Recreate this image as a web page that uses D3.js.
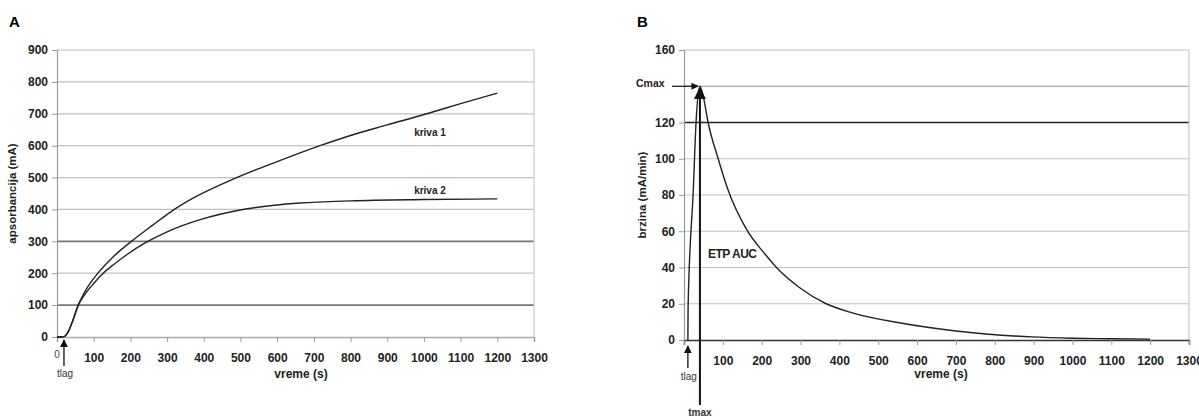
<!DOCTYPE html>
<html>
<head>
<meta charset="utf-8">
<script src="https://cdn.jsdelivr.net/npm/d3@7"></script>
<style>
  body { margin: 0; background: #fff; }
  svg { font-family: "Liberation Sans", Arial, sans-serif; }
  .tick text { font-weight: bold; fill: #222; }
</style>
</head>
<body>
<svg id="chart" width="1199" height="416"></svg>
<script>
// panel A: absorbance curves
const time1 = [0, 12, 22, 30, 40, 58, 80, 115, 150, 203, 260, 317, 367, 480, 600, 717, 800, 900, 1008, 1100, 1200];
const kriva1 = [0, 0, 3, 15, 42, 100, 150, 205, 248, 300, 350, 398, 433, 495, 550, 600, 632, 665, 700, 732, 765];
const time2 = [0, 12, 22, 30, 40, 58, 80, 100, 126, 153, 190, 240, 300, 390, 507, 662, 800, 1000, 1200];
const kriva2 = [0, 0, 3, 15, 42, 100, 140, 168, 200, 226, 258, 295, 330, 368, 400, 420, 427, 431, 433];
const yTicksA = [0, 100, 200, 300, 400, 500, 600, 700, 800, 900];
const darkGridA = [100, 300];

// panel B: thrombin rate curve
const timeB = [10, 10.5, 24, 31, 41, 50, 62, 88, 113, 161, 210, 238, 297, 366, 433, 554, 700, 896, 1000, 1100, 1200];
const rateB = [0, 18, 83, 120, 140, 134, 120, 100, 83, 61, 47, 40, 29, 20, 15, 9.5, 5, 1.7, 1, 0.7, 0.5];
const yTicksB = [0, 20, 40, 60, 80, 100, 120, 140, 160];
const yLabelsB = [0, 20, 40, 60, 80, 100, 120, 160];
const tlagA = 19, tlagB = 10, tmax = 41, cmax = 140;

const xTicks = d3.range(100, 1301, 100);

const svg = d3.select('#chart');

const defs = svg.append('defs');
defs.append('marker')
  .attr('id', 'arr')
  .attr('viewBox', '0 0 10 10')
  .attr('refX', 9).attr('refY', 5)
  .attr('markerWidth', 6).attr('markerHeight', 6)
  .attr('orient', 'auto-start-reverse')
  .append('path')
  .attr('d', 'M0,0 L10,5 L0,10 z')
  .attr('fill', '#111');

function panel(opt) {
  const x = d3.scaleLinear().domain([0, 1300]).range([opt.x0, opt.x1]);
  const y = d3.scaleLinear().domain([0, opt.ymax]).range([opt.y0, opt.y1]);
  const g = svg.append('g');

  // grid
  g.append('g').selectAll('line')
    .data(opt.yTicks.filter(d => d > 0))
    .enter().append('line')
    .attr('x1', opt.x0).attr('x2', opt.x1)
    .attr('y1', d => y(d)).attr('y2', d => y(d))
    .attr('stroke', d => opt.gridColor(d))
    .attr('stroke-width', d => opt.gridWidth(d));

  // right border
  g.append('line')
    .attr('x1', opt.x1).attr('x2', opt.x1)
    .attr('y1', opt.y1).attr('y2', opt.y0)
    .attr('stroke', '#c8c8c8').attr('stroke-width', 1.2);

  // axes
  const xa = g.append('g')
    .attr('transform', `translate(0,${opt.y0})`)
    .call(d3.axisBottom(x).tickValues([0].concat(xTicks)).tickSize(5).tickPadding(11).tickFormat(d => d === 0 ? '' : d));
  xa.select('.domain').attr('stroke', opt.baseColor).attr('stroke-width', 1.5);
  xa.selectAll('.tick line').attr('stroke', '#999');
  xa.selectAll('.tick text').style('font-size', '12px');

  const ya = g.append('g')
    .attr('transform', `translate(${opt.x0},0)`)
    .call(d3.axisLeft(y).tickValues(opt.yLabels).tickSize(5).tickPadding(4));
  ya.select('.domain').attr('stroke', '#999').attr('stroke-width', 1.2);
  ya.selectAll('.tick line').attr('stroke', '#999');
  ya.selectAll('.tick text').style('font-size', '12px');

  g.append('text')
    .attr('x', opt.titleX).attr('y', 27)
    .attr('font-weight', 'bold').attr('font-size', 15)
    .text(opt.title);

  g.append('text')
    .attr('x', opt.xlabX).attr('y', 378)
    .attr('text-anchor', 'middle')
    .attr('font-weight', 'bold').attr('font-size', 12)
    .attr('fill', '#222')
    .text('vreme (s)');

  g.append('text')
    .attr('transform', `translate(${opt.ylabX},${(opt.y0 + opt.y1) / 2}) rotate(-90)`)
    .attr('text-anchor', 'middle')
    .attr('font-weight', 'bold').attr('font-size', 11.5)
    .attr('fill', '#222')
    .text(opt.ylab);

  return { x, y, g };
}

// ---- A ----
const A = panel({
  x0: 57, x1: 534, y0: 337, y1: 50, ymax: 900,
  yTicks: yTicksA, yLabels: yTicksA,
  gridColor: d => darkGridA.includes(d) ? '#777' : '#c0c0c0',
  gridWidth: d => darkGridA.includes(d) ? 1.8 : 1.2,
  baseColor: '#aaa',
  title: 'A', titleX: 9, xlabX: 301, ylabX: 16, ylab: 'apsorbancija (mA)'
});

const lineA = d3.line().x(d => A.x(d[0])).y(d => A.y(d[1])).curve(d3.curveMonotoneX);
A.g.append('path')
  .datum(time1.map((t, i) => [t, kriva1[i]]))
  .attr('d', lineA).attr('fill', 'none').attr('stroke', '#222').attr('stroke-width', 1.4);
A.g.append('path')
  .datum(time2.map((t, i) => [t, kriva2[i]]))
  .attr('d', lineA).attr('fill', 'none').attr('stroke', '#222').attr('stroke-width', 1.4);

A.g.append('text').attr('x', 430).attr('y', 136).attr('text-anchor', 'middle')
  .attr('font-weight', 'bold').attr('font-size', 10).attr('fill', '#222').text('kriva 1');
A.g.append('text').attr('x', 430).attr('y', 194).attr('text-anchor', 'middle')
  .attr('font-weight', 'bold').attr('font-size', 10).attr('fill', '#222').text('kriva 2');

A.g.append('text').attr('x', A.x(0)).attr('y', 358).attr('text-anchor', 'middle')
  .attr('font-size', 10).attr('fill', '#444').text('0');

A.g.append('line')
  .attr('x1', A.x(tlagA)).attr('x2', A.x(tlagA))
  .attr('y1', 366).attr('y2', 340)
  .attr('stroke', '#111').attr('stroke-width', 1.3).attr('marker-end', 'url(#arr)');
A.g.append('text').attr('x', A.x(tlagA) + 1).attr('y', 377).attr('text-anchor', 'middle')
  .attr('font-size', 10).attr('fill', '#333').text('tlag');

// ---- B ----
const B = panel({
  x0: 684, x1: 1189, y0: 340, y1: 50, ymax: 160,
  yTicks: yTicksB, yLabels: yLabelsB,
  gridColor: d => d === 120 ? '#222' : (d === 140 ? '#999' : '#c0c0c0'),
  gridWidth: d => d === 120 ? 1.4 : 1.2,
  baseColor: '#333',
  title: 'B', titleX: 637, xlabX: 941, ylabX: 646, ylab: 'brzina (mA/min)'
});

const lineB = d3.line().x(d => B.x(d[0])).y(d => B.y(d[1])).curve(d3.curveMonotoneX);
B.g.append('path')
  .datum(timeB.map((t, i) => [t, rateB[i]]))
  .attr('d', lineB).attr('fill', 'none').attr('stroke', '#222').attr('stroke-width', 1.4);

// tmax vertical line with arrow
B.g.append('line')
  .attr('x1', B.x(tmax)).attr('x2', B.x(tmax))
  .attr('y1', 405).attr('y2', B.y(cmax) + 2)
  .attr('stroke', '#111').attr('stroke-width', 2).attr('marker-end', 'url(#arr)');
B.g.append('text').attr('x', B.x(tmax)).attr('y', 416).attr('text-anchor', 'middle')
  .attr('font-size', 10).attr('font-weight', 'bold').attr('fill', '#333').text('tmax');

// Cmax arrow
B.g.append('line')
  .attr('x1', 672).attr('x2', B.x(tmax) - 2)
  .attr('y1', B.y(cmax)).attr('y2', B.y(cmax))
  .attr('stroke', '#111').attr('stroke-width', 1.2).attr('marker-end', 'url(#arr)');
B.g.append('text').attr('x', 636).attr('y', B.y(cmax) + 1)
  .attr('font-size', 10.5).attr('font-weight', 'bold').attr('fill', '#222').text('Cmax');

// tlag arrow
B.g.append('line')
  .attr('x1', B.x(tlagB)).attr('x2', B.x(tlagB))
  .attr('y1', 368).attr('y2', 346)
  .attr('stroke', '#111').attr('stroke-width', 1.3).attr('marker-end', 'url(#arr)');
B.g.append('text').attr('x', B.x(tlagB) + 1).attr('y', 380).attr('text-anchor', 'middle')
  .attr('font-size', 10).attr('fill', '#333').text('tlag');

B.g.append('text').attr('x', 708).attr('y', 258)
  .attr('font-weight', 'bold').attr('font-size', 12).attr('fill', '#222')
  .attr('letter-spacing', -0.5).text('ETP AUC');
</script>
</body>
</html>
